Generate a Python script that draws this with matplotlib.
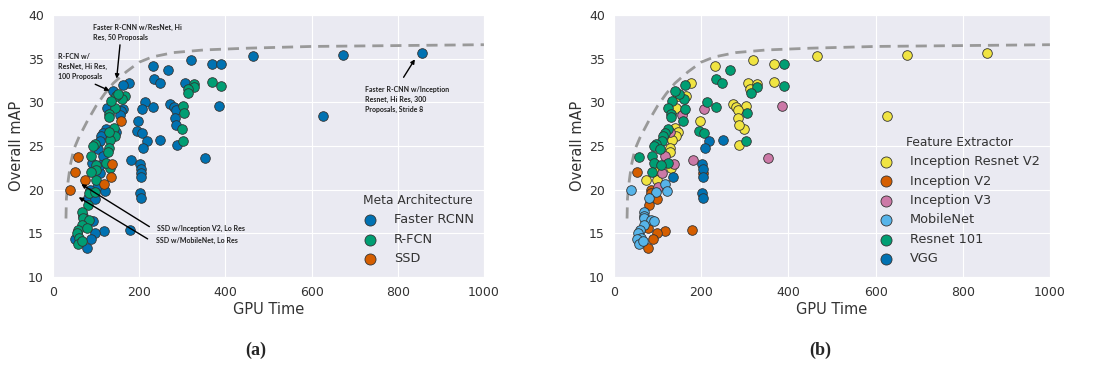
import matplotlib
matplotlib.use("Agg")
import matplotlib.pyplot as plt
import seaborn as sns

# one row per detector: gpu time, overall mAP, meta architecture, feature extractor
gpu_time = [856, 672, 465, 626, 320, 368, 390, 232, 267, 235, 248, 307,
            328, 328, 313, 314, 368, 390, 385, 302, 304, 299, 302, 272,
            281, 285, 284, 286, 287, 233, 214, 206, 197, 195, 206, 249,
            217, 209, 353, 181, 201, 204, 205, 204, 202, 205, 178, 177,
            162, 166, 161, 147, 150, 140, 162, 158, 143, 134, 125, 130,
            130, 158, 155, 141, 147, 143, 133, 129, 128, 131, 129, 124,
            116, 112, 110, 97, 92, 105, 116, 88, 91, 124, 137, 99,
            99, 109, 99, 87, 74, 135, 118, 101, 86, 84, 97, 121,
            80, 98, 80, 40, 52, 58, 68, 70, 70, 84, 92, 68,
            59, 55, 61, 52, 57, 67, 118, 98, 89, 78, 78, 108]
overall_map = [35.7, 35.4, 35.3, 28.4, 34.9, 34.4, 34.4, 34.2, 33.7, 32.7, 32.2, 32.2,
               32.1, 31.7, 31.5, 31.1, 32.3, 31.9, 29.6, 29.6, 28.8, 27.0, 25.6, 29.8,
               29.5, 29.1, 28.2, 27.4, 25.1, 29.5, 30.0, 29.2, 27.9, 26.7, 26.5, 25.7,
               25.6, 24.8, 23.6, 23.4, 22.9, 22.4, 21.9, 21.5, 19.6, 19.0, 15.4, 32.2,
               32.0, 30.7, 30.4, 30.7, 31.0, 31.3, 29.2, 29.0, 29.3, 30.1, 29.4, 28.7,
               28.3, 27.9, 28.5, 27.1, 26.6, 26.1, 25.7, 24.8, 24.3, 22.5, 26.6, 27.0,
               26.5, 26.1, 25.6, 25.2, 25.0, 24.7, 23.9, 23.8, 23.1, 23.1, 22.9, 22.8,
               22.2, 21.9, 21.1, 22.0, 21.1, 21.5, 20.7, 20.3, 20.0, 19.6, 19.7, 19.8,
               19.1, 18.9, 18.3, 20.0, 22.0, 23.7, 17.4, 17.0, 16.8, 16.5, 16.4, 15.9,
               15.4, 15.0, 14.5, 14.4, 13.8, 14.1, 15.3, 15.0, 14.3, 13.3, 15.6, 22.8]
meta_arch = ["F", "F", "F", "F", "F", "F", "F", "F", "F", "F", "F", "F",
             "R", "R", "R", "R", "R", "R", "F", "R", "R", "R", "R", "F",
             "F", "F", "F", "F", "F", "F", "F", "F", "F", "F", "F", "F",
             "F", "F", "F", "F", "F", "F", "F", "F", "F", "F", "F", "F",
             "F", "R", "R", "R", "R", "F", "F", "F", "R", "R", "F", "R",
             "R", "S", "F", "R", "F", "R", "R", "R", "R", "R", "R", "F",
             "F", "F", "F", "R", "R", "F", "F", "R", "F", "R", "S", "R",
             "R", "F", "R", "R", "S", "S", "S", "F", "F", "R", "R", "F",
             "F", "F", "R", "S", "S", "S", "R", "F", "R", "R", "F", "R",
             "R", "R", "R", "F", "R", "R", "F", "F", "F", "F", "R", "F"]
feature = ["IR", "IR", "IR", "IR", "IR", "IR", "R101", "IR", "R101", "R101", "R101", "IR",
           "IR", "R101", "IR", "R101", "IR", "R101", "I3", "IR", "R101", "IR", "R101", "IR",
           "IR", "IR", "IR", "IR", "IR", "R101", "R101", "I3", "IR", "R101", "R101", "VGG",
           "VGG", "VGG", "I3", "I3", "VGG", "VGG", "I2", "VGG", "VGG", "VGG", "I2", "IR",
           "R101", "IR", "R101", "IR", "R101", "R101", "R101", "IR", "IR", "R101", "R101", "R101",
           "R101", "R101", "I3", "IR", "IR", "IR", "IR", "IR", "IR", "IR", "I3", "R101",
           "R101", "R101", "R101", "R101", "R101", "R101", "I3", "R101", "R101", "R101", "I3", "IR",
           "IR", "I3", "IR", "R101", "IR", "VGG", "MN", "I3", "I2", "I2", "MN", "MN",
           "MN", "I2", "I2", "MN", "I2", "R101", "MN", "MN", "MN", "MN", "MN", "MN",
           "MN", "MN", "MN", "MN", "MN", "MN", "I2", "I2", "I2", "I2", "I2", "R101"]

meta_names = {"F": "Faster RCNN", "R": "R-FCN", "S": "SSD"}
feature_names = {"IR": "Inception Resnet V2", "I2": "Inception V2", "I3": "Inception V3",
                 "MN": "MobileNet", "R101": "Resnet 101", "VGG": "VGG"}

# dashed upper envelope
curve_x = [30, 31, 35, 40, 48, 60, 80, 100, 120, 140, 170, 200, 230, 280, 350,
           450, 600, 800, 1000]
curve_y = [16.7, 19.0, 21.0, 22.8, 24.6, 26.0, 27.9, 29.6, 31.0, 32.2, 33.5, 34.6,
           35.2, 35.7, 36.0, 36.2, 36.4, 36.5, 36.6]

meta_colors = {"F": "#0072B2", "R": "#009E73", "S": "#D55E00"}
feature_colors = {"IR": "#F0E442", "I2": "#D55E00", "I3": "#CC79A7",
                  "MN": "#56B4E9", "R101": "#009E73", "VGG": "#0072B2"}

sns.set_style("darkgrid")
plt.rcParams["font.family"] = ["DejaVu Sans"]


def draw_panel(ax, groups, colors, names, title):
    ax.plot(curve_x, curve_y, ls="--", color="#999999", lw=2, dashes=(4, 2.5), zorder=1)
    for key in colors:
        xs = [x for x, g in zip(gpu_time, groups) if g == key]
        ys = [y for y, g in zip(overall_map, groups) if g == key]
        ax.scatter(xs, ys, s=48, color=colors[key], edgecolor="#333333",
                   linewidth=0.6, label=names[key], zorder=3)
    ax.set_xlim(0, 1000)
    ax.set_ylim(10, 40)
    ax.set_xticks(range(0, 1001, 200))
    ax.set_yticks(range(10, 41, 5))
    ax.tick_params(labelsize=9, colors="#333333", pad=3)
    ax.set_xlabel("GPU Time", fontsize=10.5, color="#333333", labelpad=2)
    ax.set_ylabel("Overall mAP", fontsize=10.5, color="#333333", labelpad=3)
    leg = ax.legend(title=title, loc="lower right", bbox_to_anchor=(0.997, 0.01),
                    frameon=False, fontsize=9.3, title_fontsize=8.8,
                    labelspacing=0.5, handletextpad=1.2, handlelength=1.2,
                    markerscale=1.15, borderaxespad=0.3)
    for t in leg.get_texts():
        t.set_color("#333333")
    leg.get_title().set_color("#333333")
    return leg


fig = plt.figure(figsize=(10.96, 3.67), dpi=100)
ax_a = fig.add_axes([0.0484, 0.2452, 0.3932, 0.7139])
ax_b = fig.add_axes([0.5602, 0.2452, 0.3978, 0.7139])

draw_panel(ax_a, meta_arch, meta_colors, meta_names, "Meta Architecture")
draw_panel(ax_b, feature, feature_colors, feature_names, "Feature Extractor")

# notes on panel (a)
arrow = dict(arrowstyle="-|>", color="black", lw=1, mutation_scale=6)
note_font = dict(fontsize=5, fontweight="bold", family=["Lato", "DejaVu Sans"],
                 color="#222222", linespacing=1.5)
ax_a.annotate("Faster R-CNN w/ResNet, Hi\nRes, 50 Proposals", xy=(147, 32.4),
              xytext=(93, 38.0), ha="left", va="center", **note_font)
ax_a.annotate("", xy=(147, 32.4), xytext=(156, 36.9), arrowprops=arrow)
ax_a.annotate("R-FCN w/\nResNet, Hi Res,\n100 Proposals", xy=(137, 31.2),
              xytext=(12, 34.1), ha="left", va="center", **note_font)
ax_a.annotate("", xy=(137, 31.2), xytext=(92, 32.2), arrowprops=arrow)
ax_a.annotate("Faster R-CNN w/Inception\nResnet, Hi Res, 300\nProposals, Stride 8",
              xy=(843, 35.2), xytext=(723, 30.3), ha="left", va="center", **note_font)
ax_a.annotate("", xy=(843, 35.2), xytext=(810, 32.6), arrowprops=arrow)
ax_a.annotate("SSD w/Inception V2, Lo Res", xy=(60, 20.8), xytext=(242, 15.6),
              ha="left", va="center", **note_font)
ax_a.annotate("", xy=(60, 20.8), xytext=(229, 15.6), arrowprops=arrow)
ax_a.annotate("SSD w/MobileNet, Lo Res", xy=(54, 19.3), xytext=(238, 14.2),
              ha="left", va="center", **note_font)
ax_a.annotate("", xy=(54, 19.3), xytext=(225, 14.2), arrowprops=arrow)

cap = dict(fontsize=13, fontweight="bold", family=["Liberation Serif", "DejaVu Serif"],
           ha="center", va="center")
fig.text(0.233, 0.046, "(a)", **cap)
fig.text(0.748, 0.046, "(b)", **cap)

fig.savefig("out.png", dpi=100, facecolor="white")
